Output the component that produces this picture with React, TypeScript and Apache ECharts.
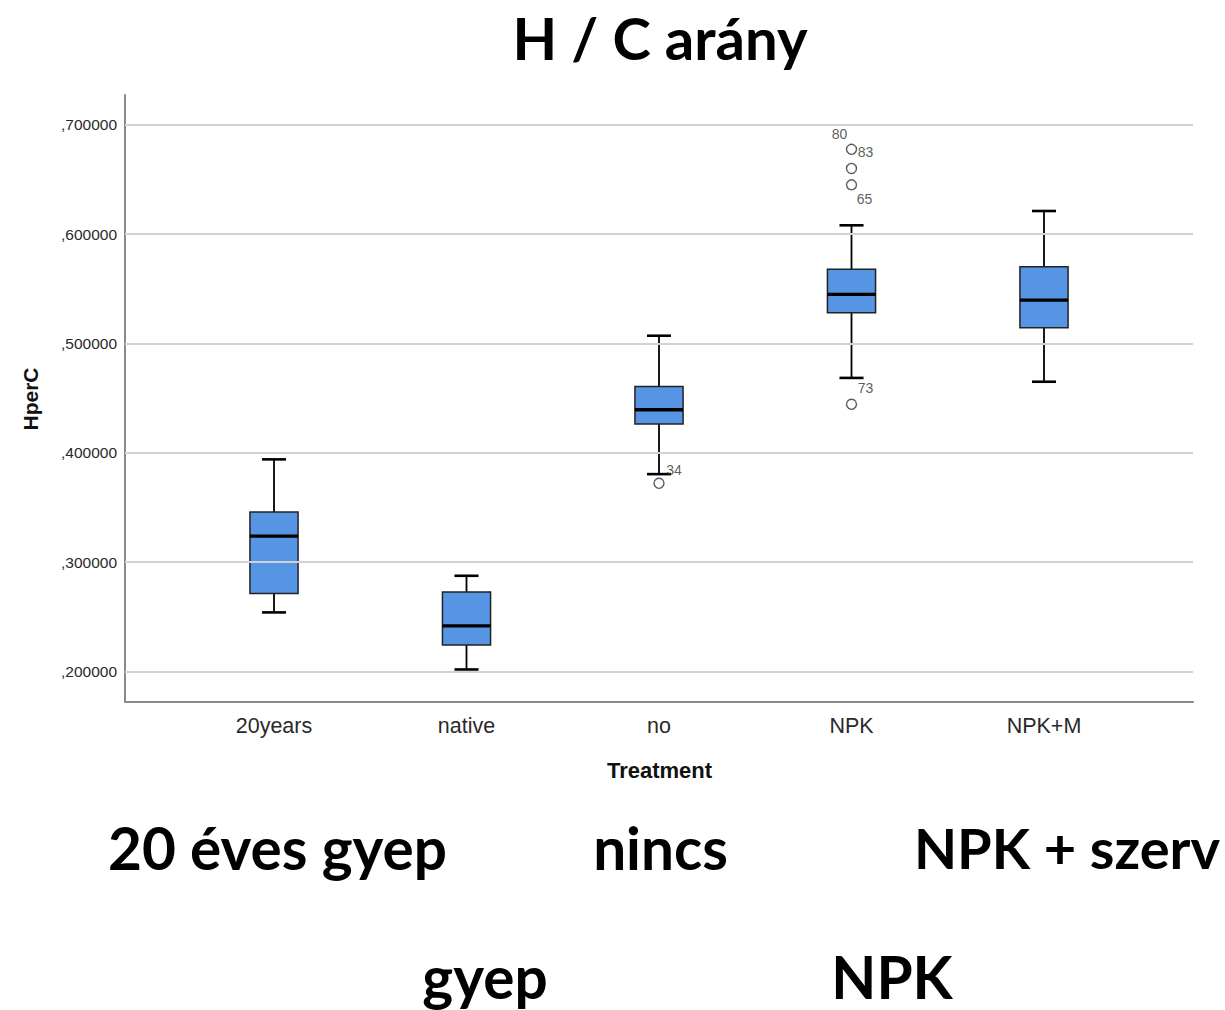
import React, { useEffect, useRef } from "react";
import * as echarts from "echarts";

// Treatment groups along the x axis
const categories = ["20years", "native", "no", "NPK", "NPK+M"];

// Five-number summaries of HperC per treatment: lower whisker, Q1, median, Q3, upper whisker
const whiskerLow = [0.2539, 0.2017, 0.3804, 0.4684, 0.4649];
const quartile1 = [0.2713, 0.224, 0.4262, 0.5281, 0.5143];
const medians = [0.3237, 0.2416, 0.4393, 0.5448, 0.5396];
const quartile3 = [0.3457, 0.2725, 0.4606, 0.5677, 0.5702];
const whiskerHigh = [0.3939, 0.2874, 0.507, 0.608, 0.6211];

// Outlying cases: group index, value, case number
const outlierGroup = [2, 3, 3, 3, 3];
const outlierValue = [0.372, 0.6775, 0.66, 0.645, 0.4443];
const outlierCase = ["34", "80", "83", "65", "73"];

// Value axis ticks
const yTickValues = [0.2, 0.3, 0.4, 0.5, 0.6, 0.7];
const yTickLabels = [",200000", ",300000", ",400000", ",500000", ",600000", ",700000"];

// Hungarian captions for the treatments
const captionTop = ["20 éves gyep", "nincs", "NPK + szerv"];
const captionBottom = ["gyep", "NPK"];

// Where each case-number label sits relative to its circle
const caseLabelOffsets: number[][] = [
  [15, -13],
  [-12, -15],
  [14, -16],
  [13, 14],
  [14, -16],
];

const Y_MIN = 0.1724;
const Y_MAX = 0.7272;
const BOX_FILL = "#5595E3";
const CAPTION_FONT = "Lato, 'Open Sans', sans-serif";
const AXIS_FONT = "'Liberation Sans', Arial, sans-serif";

export default function App() {
  const ref = useRef<HTMLDivElement>(null);

  useEffect(() => {
    if (!ref.current) return;
    const chart = echarts.init(ref.current, undefined, { renderer: "svg" });

    const boxData = categories.map((_, i) => [
      i,
      whiskerLow[i],
      quartile1[i],
      medians[i],
      quartile3[i],
      whiskerHigh[i],
    ]);

    const outlierData = outlierValue.map((v, i) => ({
      value: [outlierGroup[i], v],
      label: {
        show: true,
        position: "inside",
        offset: caseLabelOffsets[i],
        formatter: outlierCase[i],
      },
    }));

    const renderBox = (params: any, api: any) => {
      const x = api.value(0);
      const low = api.coord([x, api.value(1)]);
      const q1 = api.coord([x, api.value(2)]);
      const med = api.coord([x, api.value(3)]);
      const q3 = api.coord([x, api.value(4)]);
      const high = api.coord([x, api.value(5)]);
      const band = api.size([1, 0])[0];
      const boxW = band * 0.25;
      const capW = boxW * 0.5;
      const cx = med[0];
      const whisker = { stroke: "#000", lineWidth: 1.8 };
      const cap = { stroke: "#000", lineWidth: 2.6 };
      return {
        type: "group",
        children: [
          { type: "line", shape: { x1: cx, y1: q3[1], x2: cx, y2: high[1] }, style: whisker },
          { type: "line", shape: { x1: cx, y1: q1[1], x2: cx, y2: low[1] }, style: whisker },
          { type: "line", shape: { x1: cx - capW / 2, y1: high[1], x2: cx + capW / 2, y2: high[1] }, style: cap },
          { type: "line", shape: { x1: cx - capW / 2, y1: low[1], x2: cx + capW / 2, y2: low[1] }, style: cap },
          {
            type: "rect",
            shape: { x: cx - boxW / 2, y: q3[1], width: boxW, height: q1[1] - q3[1] },
            style: { fill: BOX_FILL, stroke: "#222", lineWidth: 1.5 },
          },
          {
            type: "line",
            shape: { x1: cx - boxW / 2, y1: med[1], x2: cx + boxW / 2, y2: med[1] },
            style: { stroke: "#000", lineWidth: 3.4 },
          },
        ],
      };
    };

    const caption = (text: string, x: number, y: number, size: number) => ({
      type: "text",
      x,
      y,
      style: {
        text,
        fontFamily: CAPTION_FONT,
        fontWeight: "bold",
        fontSize: size,
        fill: "#000",
        align: "center",
        verticalAlign: "middle",
      },
    });

    chart.setOption({
      animation: false,
      backgroundColor: "#fff",
      grid: [
        { left: 125, right: 32, top: 95, bottom: 308.5 },
        { left: 177.75, right: 84.75, top: 95, bottom: 308.5 },
      ],
      xAxis: [
        {
          type: "value",
          gridIndex: 0,
          min: 0,
          max: 1,
          axisLine: { show: true, lineStyle: { color: "#8a8a8a", width: 2 } },
          axisTick: { show: false },
          axisLabel: { show: false },
          splitLine: { show: false },
        },
        {
          type: "category",
          gridIndex: 1,
          data: categories,
          boundaryGap: true,
          axisLine: { show: false },
          axisTick: { show: false },
          axisLabel: {
            margin: 13,
            fontSize: 21.5,
            fontFamily: AXIS_FONT,
            color: "#2a2a2a",
          },
        },
      ],
      yAxis: [
        {
          type: "value",
          gridIndex: 0,
          min: Y_MIN,
          max: Y_MAX,
          axisLine: { show: true, lineStyle: { color: "#8a8a8a", width: 2 } },
          axisTick: { show: false },
          splitLine: { show: false },
          axisLabel: {
            show: true,
            customValues: yTickValues,
            margin: 8,
            fontSize: 15.5,
            padding: [4, 0, 0, 0],
            fontFamily: AXIS_FONT,
            color: "#2a2a2a",
            formatter: (v: number) => {
              const k = yTickValues.findIndex((t) => Math.abs(t - v) < 1e-9);
              return k >= 0 ? yTickLabels[k] : "";
            },
          },
        },
        {
          type: "value",
          gridIndex: 1,
          min: Y_MIN,
          max: Y_MAX,
          show: false,
          splitLine: { show: false },
        },
      ],
      series: [
        {
          type: "scatter",
          xAxisIndex: 0,
          yAxisIndex: 0,
          data: [],
          silent: true,
          z: 1,
          markLine: {
            silent: true,
            symbol: "none",
            label: { show: false },
            lineStyle: { color: "#d2d2d2", width: 2, type: "solid" },
            data: yTickValues.map((v) => ({ yAxis: v })),
          },
        },
        {
          type: "custom",
          xAxisIndex: 1,
          yAxisIndex: 1,
          renderItem: renderBox,
          encode: { x: 0, y: [1, 2, 3, 4, 5] },
          data: boxData,
          z: 3,
        },
        {
          type: "scatter",
          xAxisIndex: 1,
          yAxisIndex: 1,
          symbol: "circle",
          symbolSize: 10,
          itemStyle: { color: "#fff", borderColor: "#333", borderWidth: 1.4 },
          label: { fontSize: 14, fontFamily: AXIS_FONT, color: "#333" },
          data: outlierData,
          z: 4,
        },
      ],
      graphic: [
        {
          type: "text",
          x: 660,
          y: 37,
          style: {
            text: "H / C arány",
            fontFamily: CAPTION_FONT,
            fontWeight: "bold",
            fontSize: 58,
            fill: "#000",
            align: "center",
            verticalAlign: "middle",
          },
        },
        {
          type: "text",
          x: 30,
          y: 399,
          rotation: Math.PI / 2,
          style: {
            text: "HperC",
            fontFamily: AXIS_FONT,
            fontWeight: "bold",
            fontSize: 21,
            fill: "#111",
            align: "center",
            verticalAlign: "middle",
          },
        },
        {
          type: "text",
          x: 659.5,
          y: 770,
          style: {
            text: "Treatment",
            fontFamily: AXIS_FONT,
            fontWeight: "bold",
            fontSize: 22,
            fill: "#111",
            align: "center",
            verticalAlign: "middle",
          },
        },
        ...captionTop.map((t, i) =>
          caption(t, [277.5, 660.5, 1067][i], 847, [58.5, 58.5, 56][i])
        ),
        ...captionBottom.map((t, i) => caption(t, [485, 892][i], 976, 58.5)),
      ],
    });

    return () => chart.dispose();
  }, []);

  return (
    <div
      ref={ref}
      style={{ position: "absolute", left: 0, top: 0, width: 1225, height: 1010, background: "#fff" }}
    />
  );
}
